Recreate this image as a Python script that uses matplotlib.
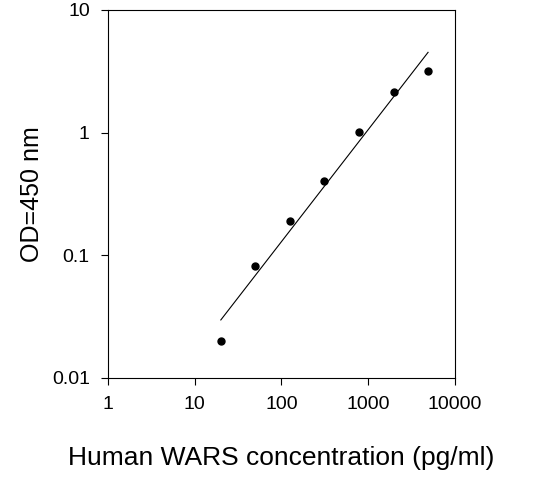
import numpy as np
from matplotlib import pyplot as plt
from matplotlib.ticker import NullLocator, FixedLocator

plt.rcParams['font.family'] = ['Liberation Sans', 'DejaVu Sans']

conc = np.array([20, 50, 125, 312, 781, 1953, 4883])
od = np.array([0.020, 0.082, 0.19, 0.40, 1.02, 2.15, 3.2])

xticks = [1, 10, 100, 1000, 10000]
xtick_labels = ['1', '10', '100', '1000', '10000']
yticks = [0.01, 0.1, 1, 10]
ytick_labels = ['0.01', '0.1', '1', '10']

# log-log linear fit
k, b = np.polyfit(np.log10(conc), np.log10(od), 1)
xf = np.array([conc[0], conc[-1]])
yf = 10 ** (k * np.log10(xf) + b)

fig = plt.figure(figsize=(5.45, 4.94), dpi=100)
ax = fig.add_axes([0.198, 0.235, 0.637, 0.745])

ax.plot(xf, yf, color='black', linewidth=0.8)
ax.plot(conc, od, 'o', color='black', markersize=5)

ax.set_xscale('log')
ax.set_yscale('log')
ax.set_xlim(1, 10000)
ax.set_ylim(0.01, 10)
ax.xaxis.set_major_locator(FixedLocator(xticks))
ax.yaxis.set_major_locator(FixedLocator(yticks))
ax.xaxis.set_minor_locator(NullLocator())
ax.yaxis.set_minor_locator(NullLocator())
ax.set_xticklabels(xtick_labels, fontsize=14)
ax.set_yticklabels(ytick_labels, fontsize=14)
ax.tick_params(direction='out', length=5, width=0.8, pad=8)

ax.set_xlabel('Human WARS concentration (pg/ml)', fontsize=19, labelpad=24)
ax.set_ylabel('OD=450 nm', fontsize=18, labelpad=6)

fig.savefig('out.png', dpi=100)
